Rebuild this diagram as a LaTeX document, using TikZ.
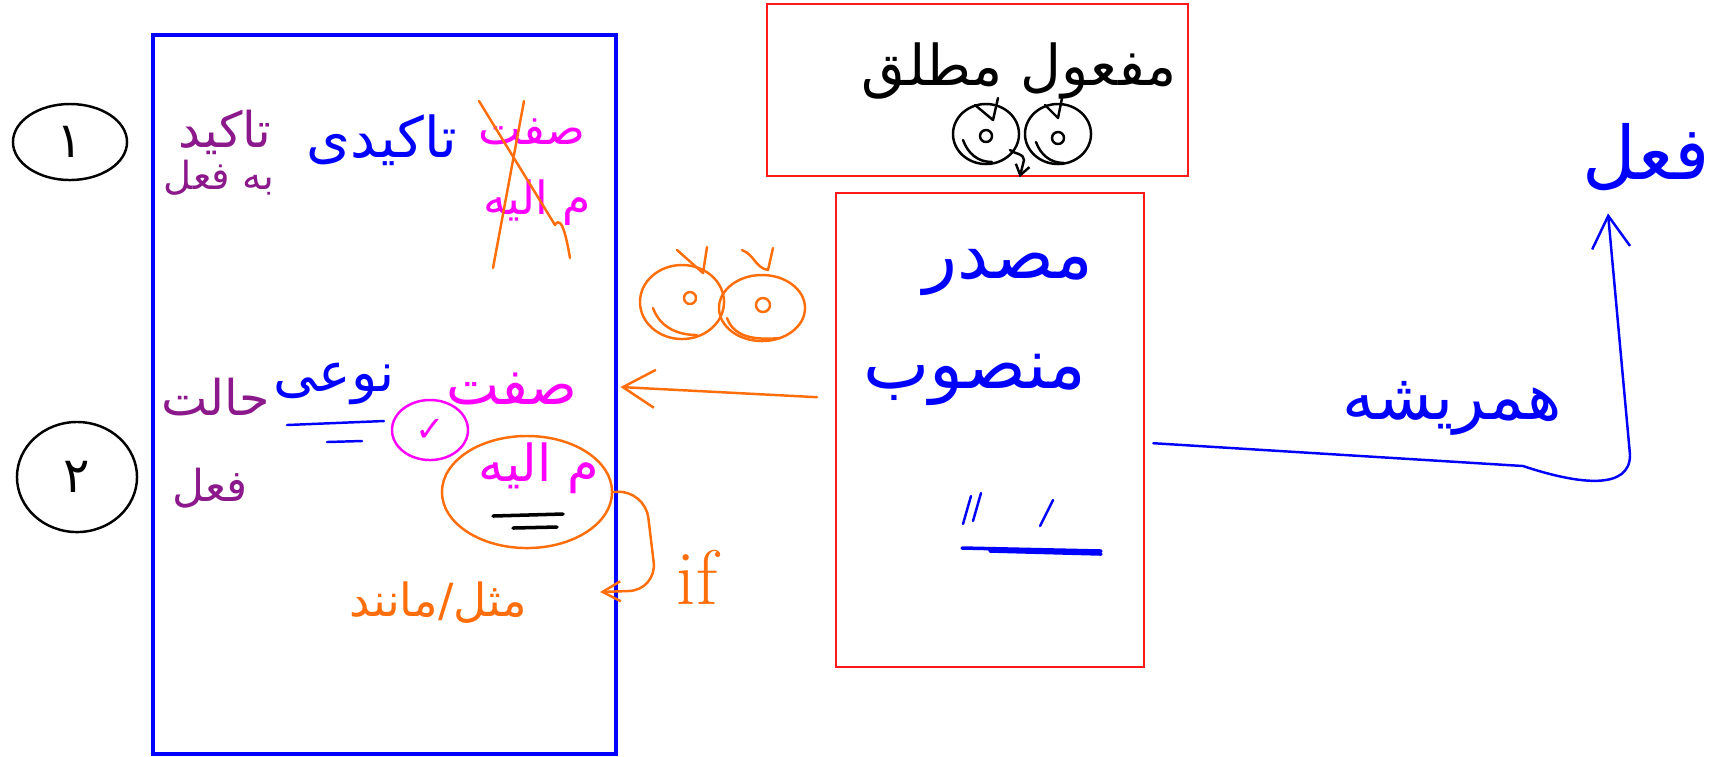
\documentclass[tikz,border=0pt]{standalone}
\usepackage{fontspec}
\usetikzlibrary{shapes, calc, arrows, arrows.meta, positioning}
\newfontfamily\persianfont[Script=Arabic]{DejaVu Sans}
\TeXXeTstate=1
\newcommand{\fatext}[1]{{\persianfont\beginR #1\endR}}
\newcommand{\pt}[1]{\fontsize{#1}{#1}\selectfont}
\definecolor{penblue}{RGB}{0,0,255}
\definecolor{penred}{RGB}{255,25,25}
\definecolor{penpurple}{RGB}{140,25,140}
\definecolor{penmagenta}{RGB}{255,0,255}
\definecolor{penorange}{RGB}{255,110,10}
\tikzstyle{frame}=[draw, rectangle, inner sep=0pt, anchor=north west]
\tikzstyle{bluebox}=[frame, draw=penblue, line width=1pt]
\tikzstyle{redbox}=[frame, draw=penred, line width=0.6pt]
\tikzstyle{ink}=[line width=0.7pt, line cap=round, line join=round]
\tikzstyle{numcirc}=[draw, ellipse, ink, inner sep=0pt, font=\pt{14}]
\tikzstyle{word}=[inner sep=0pt, font=\pt{16}]
\tikzstyle{barb}=[-{Straight Barb[length=0.32cm,width=0.38cm]}]

\begin{document}
\begin{tikzpicture}[x=0.01cm, y=-0.01cm]
    \useasboundingbox (0,0) rectangle (1727,756);

    \node[bluebox, minimum width=4.63cm, minimum height=7.19cm] (typebox) at (151,33) {};
    \node[redbox, minimum width=4.21cm, minimum height=1.72cm] (mafoolbox) at (766,3) {};
    \node[redbox, minimum width=3.08cm, minimum height=4.74cm] (masdarbox) at (835,192) {};

    \node[numcirc, minimum width=1.14cm, minimum height=0.76cm] (n1) at (70,142) {\fatext{۱}};
    \node[numcirc, minimum width=1.2cm, minimum height=1.1cm] (n2) at (77,477) {\fatext{۲}};

    % row 1
    \node[word, text=penpurple, font=\pt{14}] (taakid) at (225,132) {\fatext{تاکید}};
    \node[word, text=penpurple, font=\pt{11}] (befel) at (219,178) {\fatext{به فعل}};
    \node[word, text=penblue] (taakidi) at (382,140) {\fatext{تاکیدی}};
    \node[word, text=penmagenta, font=\pt{13}] (sefat1) at (532,132) {\fatext{صفت}};
    \node[word, text=penmagenta, font=\pt{13}] (mozaf1) at (537,203) {\fatext{م الیه}};
    \draw[ink, penorange] (479,101) -- (555,225) to[out=60,in=100] (570,258);
    \draw[ink, penorange] (524,101) -- (493,268);

    % row 2
    \node[word, text=penpurple, font=\pt{14}] (halat) at (216,397) {\fatext{حالت}};
    \node[word, text=penpurple, font=\pt{12.5}] (halatfel) at (210,488) {\fatext{فعل}};
    \node[word, text=penblue, font=\pt{15.5}] (noei) at (334,384) {\fatext{نوعی}};
    \draw[ink, penblue] (287,425) -- (384,421) (327,442) -- (362,441);
    \node[word, text=penmagenta] (sefat2) at (512,389) {\fatext{صفت}};
    \node[draw=penmagenta, ellipse, ink, minimum width=0.76cm, minimum height=0.6cm, text=penmagenta, inner sep=0pt] (tick) at (430,430) {\persianfont ✓};
    \node[draw=penorange, ellipse, ink, minimum width=1.7cm, minimum height=1.12cm] (mozafring) at (527,492) {};
    \node[word, text=penmagenta, font=\pt{14.5}] (mozaf2) at (539,468) {\fatext{م الیه}};
    \draw[ink, black, line width=1pt] (493,516) -- (563,514) (513,528) -- (557,527);

    \node[word, text=penorange, font=\pt{13}] (mesl) at (438,603) {\fatext{مثل/مانند}};
    \node[word, text=penorange, font=\pt{22}] (cond) at (697,577) {if};
    \coordinate (ifend) at (600,592);
    \draw[ink, penorange, -{Straight Barb[length=0.18cm,width=0.2cm]}, rounded corners=8] (mozafring.east) -- (645,490) -- (657,590) -- (ifend);

    % faces next to the arrow
    \draw[ink, penorange] (682,302) ellipse [x radius=0.42cm, y radius=0.37cm];
    \draw[ink, penorange] (762,308) ellipse [x radius=0.43cm, y radius=0.33cm];
    \draw[ink, penorange] (690,298) circle [radius=0.06cm] (763,305) circle [radius=0.07cm];
    \draw[ink, penorange] (653,308) to[out=-70,in=180] (697,335) (727,318) to[out=-70,in=185] (780,338);
    \draw[ink, penorange] (677,250) -- (703,273) -- (707,247) (742,250) to[out=-20,in=170] (768,270) -- (773,248);
    \draw[ink, penorange, barb] ([xshift=-0.18cm,yshift=0.33cm]masdarbox.west) -- ([xshift=0.42cm,yshift=0.02cm]sefat2.east);

    % mafool mutlaq
    \node[word, text=black] (mafool) at (1019,71) {\fatext{مفعول مطلق}};
    \draw[ink] (986,134) ellipse [x radius=0.33cm, y radius=0.3cm] (1058,134) ellipse [x radius=0.33cm, y radius=0.3cm];
    \draw[ink] (986,136) circle [radius=0.06cm] (1058,138) circle [radius=0.06cm];
    \draw[ink] (963,140) to[out=-70,in=180] (992,162) (1036,142) to[out=-70,in=180] (1064,163);
    \draw[ink] (975,105) -- (993,120) -- (998,98) (1045,105) -- (1058,118) -- (1062,98);
    \draw[ink, -{Straight Barb[length=0.1cm,width=0.14cm]}] (1010,150) to[out=-40,in=90] (1024,160) -- ([xshift=0.42cm]mafoolbox.south);

    % masdar
    \node[word, text=penblue, font=\pt{20}] (masdar) at (1008,272) {\fatext{مصدر}};
    \node[word, text=penblue, font=\pt{20}] (mansub) at (975,380) {\fatext{منصوب}};
    \draw[ink, penblue] (963,524) -- (971,496) (973,521) -- (981,493) (1040,526) -- (1053,500);
    \draw[ink, penblue, line width=1pt] (962,548) -- (1101,551) (990,551) -- (1101,554);

    \node[word, text=penblue, font=\pt{18.5}] (hamrishe) at (1452,408) {\fatext{همریشه}};
    \node[word, text=penblue, font=\pt{21}] (fel) at (1646,157) {\fatext{فعل}};
    \draw[ink, penblue, barb] ([xshift=0.08cm,yshift=-0.13cm]masdarbox.east) -- (1523,466) .. controls (1580,485) and (1630,490) .. (1630,455) -- ($(fel.south)+(-38,22)$);

\end{tikzpicture}
\end{document}
